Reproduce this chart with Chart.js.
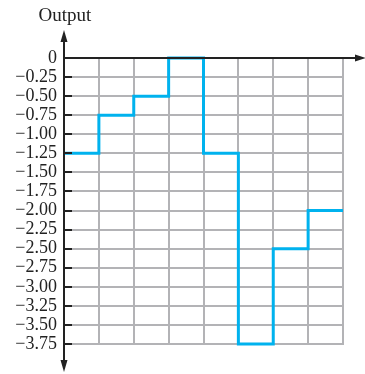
<!DOCTYPE html>
<html>
<head>
<meta charset="utf-8">
<script src="https://cdn.jsdelivr.net/npm/chart.js@4"></script>
<style>
html,body{margin:0;padding:0;background:#fff;}
#wrap{width:365px;height:374px;position:relative;}
</style>
</head>
<body>
<div id="wrap"><canvas id="c" width="365" height="374"></canvas></div>
<script>
// Data
const xPositions = [0, 1, 2, 3, 4, 5, 6, 7, 8];
const outputValues = [-1.25, -0.75, -0.5, 0, -1.25, -3.75, -2.5, -2.0, -2.0];
const yTickValues = [0, -0.25, -0.5, -0.75, -1, -1.25, -1.5, -1.75, -2, -2.25, -2.5, -2.75, -3, -3.25, -3.5, -3.75];
const axisTitle = 'Output';

const serif = '"Liberation Serif", "Times New Roman", serif';
const gridColor = '#b3b3b6';

const gridPlugin = {
  id: 'gridPlugin',
  beforeDatasetsDraw(chart) {
    const ctx = chart.ctx;
    const xs = chart.scales.x, ys = chart.scales.y;
    const yTop = ys.getPixelForValue(0), yBot = ys.getPixelForValue(-3.75);
    const xL = xs.getPixelForValue(0), xR = xs.getPixelForValue(8);
    ctx.save();
    ctx.strokeStyle = gridColor;
    ctx.lineWidth = 2;
    xPositions.forEach(x => {
      const px = Math.round(xs.getPixelForValue(x));
      ctx.beginPath(); ctx.moveTo(px, yTop); ctx.lineTo(px, yBot + 1); ctx.stroke();
    });
    yTickValues.forEach(v => {
      const py = Math.round(ys.getPixelForValue(v));
      ctx.beginPath(); ctx.moveTo(xL, py); ctx.lineTo(xR + 1, py); ctx.stroke();
    });
    ctx.restore();
  }
};

const axesPlugin = {
  id: 'axesPlugin',
  afterDraw(chart) {
    const ctx = chart.ctx;
    const xs = chart.scales.x, ys = chart.scales.y;
    const x0 = Math.round(xs.getPixelForValue(0));
    const y0 = Math.round(ys.getPixelForValue(0));
    ctx.save();
    ctx.strokeStyle = '#222';
    ctx.fillStyle = '#222';
    ctx.lineWidth = 2;
    ctx.beginPath(); ctx.moveTo(x0, 38); ctx.lineTo(x0, 364); ctx.stroke();
    ctx.beginPath(); ctx.moveTo(x0, y0); ctx.lineTo(358, y0); ctx.stroke();
    yTickValues.forEach(v => {
      if (v === 0) return;
      const py = Math.round(ys.getPixelForValue(v));
      ctx.beginPath(); ctx.moveTo(x0, py); ctx.lineTo(x0 + 8, py); ctx.stroke();
    });
    ctx.beginPath();
    ctx.moveTo(x0, 30); ctx.lineTo(x0 - 3.5, 42); ctx.lineTo(x0 + 3.5, 42); ctx.closePath(); ctx.fill();
    ctx.beginPath();
    ctx.moveTo(x0, 372); ctx.lineTo(x0 - 3.5, 360); ctx.lineTo(x0 + 3.5, 360); ctx.closePath(); ctx.fill();
    ctx.beginPath();
    ctx.moveTo(366, y0); ctx.lineTo(355, y0 - 3.5); ctx.lineTo(355, y0 + 3.5); ctx.closePath(); ctx.fill();
    ctx.font = '19px ' + serif;
    ctx.textAlign = 'center';
    ctx.textBaseline = 'alphabetic';
    ctx.fillText(axisTitle, 65, 21);
    ctx.restore();
  }
};

new Chart(document.getElementById('c'), {
  type: 'line',
  data: {
    labels: xPositions,
    datasets: [{
      data: xPositions.map((x, i) => ({x: x, y: outputValues[i]})),
      stepped: 'before',
      borderColor: '#00b2ee',
      borderWidth: 3,
      pointRadius: 0,
      fill: false,
      clip: false
    }]
  },
  options: {
    responsive: false,
    animation: false,
    devicePixelRatio: 1,
    layout: {padding: {left: 0, right: 22, top: 58, bottom: 30}},
    plugins: {legend: {display: false}, tooltip: {enabled: false}},
    scales: {
      x: {
        type: 'linear', min: 0, max: 8,
        ticks: {display: false, stepSize: 1},
        grid: {display: false, drawTicks: false},
        border: {display: false}
      },
      y: {
        type: 'linear', min: -3.75, max: 0,
        afterBuildTicks(scale) { scale.ticks = yTickValues.map(v => ({value: v})); },
        afterFit(scale) { scale.width = 64; },
        ticks: {
          autoSkip: false,
          padding: 7,
          color: '#222',
          font: {family: serif, size: 18},
          callback: v => v === 0 ? '0' : '\u2212' + Math.abs(v).toFixed(2)
        },
        grid: {display: false, drawTicks: false},
        border: {display: false}
      }
    }
  },
  plugins: [gridPlugin, axesPlugin]
});
</script>
</body>
</html>
